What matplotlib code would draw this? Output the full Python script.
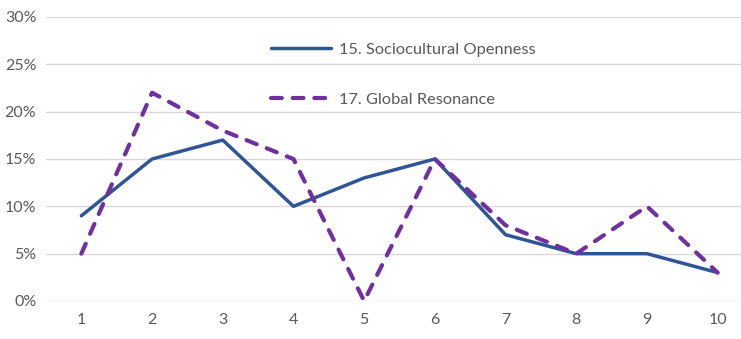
import matplotlib
matplotlib.use("Agg")
import matplotlib.pyplot as plt
from matplotlib.ticker import FuncFormatter

# Data
positions = [1, 2, 3, 4, 5, 6, 7, 8, 9, 10]
sociocultural_openness = [9, 15, 17, 10, 13, 15, 7, 5, 5, 3]
global_resonance = [5, 22, 18, 15, 0, 15, 8, 5, 10, 3]
y_ticks = [0, 5, 10, 15, 20, 25, 30]
series_labels = ["15. Sociocultural Openness", "17. Global Resonance"]

plt.rcParams['font.family'] = ['Lato', 'DejaVu Sans']
text_color = "#595959"

fig = plt.figure(figsize=(7.41, 3.39), dpi=100)
ax = fig.add_axes([46 / 741, 1 - 301 / 339, 707 / 741, 284 / 339])

ax.plot(positions, sociocultural_openness, color="#2F5597", lw=2.5,
        solid_capstyle="round", solid_joinstyle="round",
        label=series_labels[0], zorder=3)
ax.plot(positions, global_resonance, color="#7030A0", lw=3.0,
        dashes=(2.6, 2.6), dash_capstyle="round", dash_joinstyle="round",
        label=series_labels[1], zorder=4)

ax.set_xlim(0.5, 10.5)
ax.set_ylim(0, 30)
ax.set_xticks(positions)
ax.set_yticks(y_ticks)
ax.yaxis.set_major_formatter(FuncFormatter(lambda v, _: f"{v:.0f}%"))
ax.grid(axis="y", color="#D9D9D9", lw=1)
ax.set_axisbelow(True)
for s in ax.spines.values():
    s.set_visible(False)
ax.tick_params(length=0, labelsize=11.5, colors=text_color)
ax.tick_params(axis="y", pad=7)
ax.tick_params(axis="x", pad=9)

leg = ax.legend(loc="upper left", bbox_to_anchor=(218 / 707, 1 - 19 / 284),
                frameon=False, handlelength=3.7, handletextpad=0.45,
                labelspacing=2.15, fontsize=11.8, borderaxespad=0)
for t in leg.get_texts():
    t.set_color(text_color)

fig.savefig("out.png", dpi=100)
